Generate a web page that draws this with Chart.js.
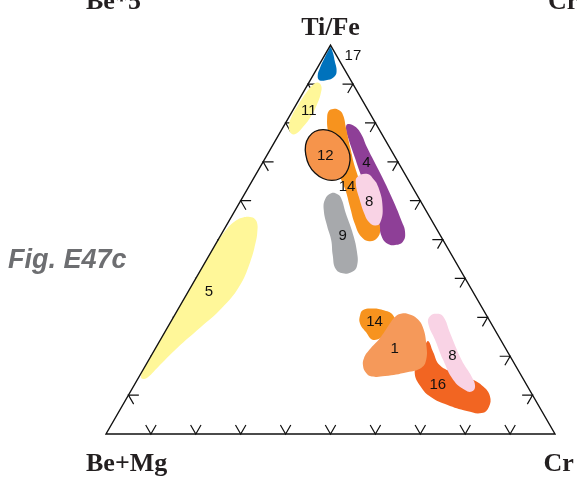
<!DOCTYPE html>
<html>
<head>
<meta charset="utf-8">
<script src="https://cdn.jsdelivr.net/npm/chart.js@4.4.1/dist/chart.umd.min.js"></script>
<style>
  html, body { margin: 0; padding: 0; background: #ffffff; }
  #wrap { width: 577px; height: 480px; }
</style>
</head>
<body>
<div id="wrap"><canvas id="c" width="577" height="480"></canvas></div>
<script>
// Ternary diagram: Ti/Fe (apex), Be+Mg (lower left), Cr (lower right).
const apexTitles = ['Ti/Fe', 'Be+Mg', 'Cr'];
const tickPercents = [10, 20, 30, 40, 50, 60, 70, 80, 90];

// Field outlines as [Cr %, Ti/Fe %]; Be+Mg is the remainder to 100 %.
const field17 = [[0.2, 99.5], [1.4, 98.2], [3.0, 95.9], [4.8, 93.1], [4.8, 91.7], [3.5, 91.0],
  [2.0, 91.0], [1.1, 92.1], [0.6, 94.1], [0.3, 97.0], [0.2, 99.0]];
const field11 = [[3.2, 89.5], [4.0, 87.7], [4.6, 84.9], [4.8, 81.8], [4.4, 79.0], [3.7, 77.2],
  [2.6, 77.3], [1.2, 79.0], [0.5, 81.8], [0.5, 84.6], [0.7, 87.7], [1.2, 89.9], [2.0, 90.4]];
const field14a = [[8.8, 83.6], [10.2, 83.3], [11.8, 82.0], [14.1, 78.7], [17.6, 73.6], [21.7, 67.9],
  [25.6, 63.3], [29.6, 58.9], [32.6, 55.6], [34.8, 52.5], [35.2, 50.4], [33.8, 49.6], [31.5, 50.7],
  [28.6, 53.8], [25.0, 58.6], [21.9, 62.8], [18.0, 67.4], [14.1, 72.5], [10.6, 77.7], [8.6, 81.3],
  [8.1, 83.1]];
const field12 = [[18.4, 71.8], [19.6, 69.2], [19.9, 67.1], [19.3, 65.7], [17.7, 65.2], [15.5, 65.7],
  [13.0, 67.1], [10.6, 69.2], [8.6, 71.8], [7.3, 74.3], [7.0, 76.4], [7.6, 77.8], [9.2, 78.3],
  [11.4, 77.8], [13.9, 76.4], [16.3, 74.3]];
const field4 = [[14.0, 79.7], [15.9, 79.1], [18.2, 77.2], [21.2, 73.8], [27.5, 67.1], [33.8, 60.2],
  [38.5, 54.7], [40.6, 52.0], [41.4, 49.5], [40.1, 48.6], [38.1, 49.0], [36.0, 50.8], [33.1, 55.0],
  [28.3, 61.0], [23.9, 66.1], [19.8, 71.2], [15.9, 76.1], [14.1, 78.7]];
const field8a = [[22.9, 66.1], [24.6, 66.9], [26.5, 65.8], [28.9, 63.5], [32.4, 58.4], [33.9, 54.3],
  [33.1, 53.6], [31.3, 54.5], [29.5, 56.3], [25.8, 61.0], [23.5, 64.3]];
const field9 = [[19.2, 61.9], [20.6, 61.7], [22.0, 60.7], [25.0, 56.8], [28.7, 52.2], [32.5, 46.8],
  [34.3, 43.2], [34.0, 41.7], [32.4, 41.3], [30.0, 42.4], [27.5, 46.0], [25.2, 49.9], [22.5, 53.5],
  [19.7, 57.6], [18.6, 60.4]];
const field5 = [[1.0, 14.2], [1.9, 14.4], [2.9, 17.0], [4.8, 22.1], [7.3, 27.3], [9.6, 32.4],
  [10.7, 37.8], [10.0, 44.2], [8.5, 49.9], [7.7, 52.0], [6.7, 54.0], [5.5, 55.3], [4.2, 55.8],
  [2.7, 55.7], [1.5, 54.9], [0.5, 52.5], [0, 46.6], [0, 39.6], [0, 30.9], [0, 22.1], [0.1, 16.7],
  [0.3, 15.0]];
const field14b = [[41.3, 30.6], [41.3, 31.9], [43.1, 32.3], [45.7, 31.9], [48.6, 30.6], [50.3, 28.0],
  [49.4, 25.5], [47.4, 24.2], [44.8, 26.2], [42.3, 28.5]];
const field1 = [[50.4, 31.0], [52.3, 30.7], [54.4, 29.7], [56.8, 27.5], [59.9, 22.9], [61.8, 19.0],
  [61.7, 17.0], [59.1, 15.9], [54.7, 14.9], [51.8, 14.8], [50.1, 15.7], [48.5, 17.5], [47.7, 19.5],
  [47.8, 21.6], [48.7, 24.7], [49.0, 28.0], [49.3, 30.1]];
const field16 = [[59.8, 23.9], [62.3, 21.1], [65.5, 17.7], [69.9, 15.7], [74.4, 14.1], [77.8, 12.3],
  [80.6, 9.8], [81.8, 6.9], [81.0, 5.4], [77.4, 5.9], [72.2, 7.5], [67.6, 9.5], [64.1, 12.1],
  [60.8, 15.9], [60.2, 19.5], [59.7, 22.6]];
const field8b = [[58.2, 30.9], [60.0, 30.2], [63.7, 25.9], [69.7, 19.0], [74.1, 14.7], [76.1, 12.2],
  [76.0, 10.9], [74.3, 11.3], [70.4, 13.9], [65.6, 19.0], [61.2, 24.2], [57.5, 28.5], [57.0, 30.3]];

// Field numbers and where they sit, as [text, Cr %, Ti/Fe %].
const fieldLabels = [['17', 6.2, 97.6], ['11', 3.4, 83.5], ['12', 12.9, 71.9], ['4', 23.0, 70.0],
  ['14', 21.7, 64.0], ['8', 28.6, 60.0], ['9', 27.0, 51.4], ['5', 4.5, 36.8], ['14', 45.2, 29.2],
  ['1', 53.2, 22.2], ['8', 67.0, 20.3], ['16', 67.4, 13.0]];

// ---- geometry helpers ----
const H = Math.sqrt(3) / 2;
function toXY(cr, ti) { return { x: cr / 100 + ti / 200, y: (ti / 100) * H }; }
const outline = pts => pts.map(([cr, ti]) => toXY(cr, ti));

// Arrow-like ticks: apex on the side, two arms at ±30° around the inward normal.
const TICK = 0.0232;
function vTick(p, nx, ny) {
  const c = Math.cos(Math.PI / 6), s = Math.sin(Math.PI / 6);
  return [
    { x: p.x + TICK * (nx * c - ny * s), y: p.y + TICK * (nx * s + ny * c) },
    { x: p.x, y: p.y },
    { x: p.x + TICK * (nx * c + ny * s), y: p.y + TICK * (-nx * s + ny * c) },
    { x: null, y: null }
  ];
}
const tickPoints = [];
tickPercents.forEach(t => {
  tickPoints.push(...vTick(toXY(t, 0), 0, 1));          // base: Be+Mg – Cr
  tickPoints.push(...vTick(toXY(0, t), H, -0.5));       // left: Be+Mg – Ti/Fe
  tickPoints.push(...vTick(toXY(100 - t, t), -H, -0.5)); // right: Cr – Ti/Fe
});

// Stacking: later entries are painted above earlier ones.
const layers = [
  { pts: field5, color: '#fff799' },
  { pts: field11, color: '#fff799' },
  { pts: field17, color: '#0072bc' },
  { pts: field4, color: '#8e3f97' },
  { pts: field14a, color: '#f7931e' },
  { pts: field9, color: '#a7a9ac' },
  { pts: field8a, color: '#f9d3e5' },
  { pts: field12, color: '#f6944b', border: '#111111' },
  { pts: field14b, color: '#f7931e' },
  { pts: field16, color: '#f26522' },
  { pts: field1, color: '#f5995a' },
  { pts: field8b, color: '#f9d3e5' }
];

const datasets = [];
datasets.push({
  data: tickPoints, order: 100, showLine: true, borderColor: '#111111', borderWidth: 1.2,
  pointRadius: 0, tension: 0, fill: false, spanGaps: false
});
layers.forEach((l, i) => {
  datasets.push({
    data: outline(l.pts), order: 90 - i, closed: true, showLine: true,
    backgroundColor: l.color, borderColor: l.border || l.color,
    borderWidth: l.border ? 1.3 : 0, pointRadius: 0, tension: 0.45,
    fill: 'shape', capBezierPoints: false
  });
});
datasets.push({
  data: [toXY(0, 100), toXY(0, 0), toXY(100, 0)], order: 0, closed: true, showLine: true,
  borderColor: '#111111', borderWidth: 1.4, pointRadius: 0, tension: 0, fill: false
});

// Turn flagged line datasets into smooth closed loops.
const closedOutline = {
  id: 'closedOutline',
  afterDatasetUpdate(chart, args) {
    const ds = chart.data.datasets[args.index];
    if (!ds.closed) return;
    const line = args.meta.dataset;
    line._loop = true;
    line._fullLoop = true;
    line._pointsUpdated = false;
    delete line._segments;
    delete line._path;
  }
};

// Field numbers, apex titles and panel caption.
const textLayer = {
  id: 'textLayer',
  afterDatasetsDraw(chart) {
    const { ctx, scales: { x, y } } = chart;
    const px = p => [x.getPixelForValue(p.x), y.getPixelForValue(p.y)];
    ctx.save();
    ctx.fillStyle = '#111111';
    ctx.textAlign = 'center';
    ctx.textBaseline = 'alphabetic';
    ctx.font = '15px "Liberation Sans", Arial, sans-serif';
    fieldLabels.forEach(([t, cr, ti]) => {
      const [a, b] = px(toXY(cr, ti));
      ctx.fillText(t, a, b + 5.4);
    });

    ctx.fillStyle = '#231f20';
    ctx.font = 'bold 26px "Liberation Serif", "Times New Roman", serif';
    const [tx, ty] = px(toXY(0, 100));
    ctx.textAlign = 'center';
    ctx.fillText(apexTitles[0], tx, ty - 10);
    const [lx, ly] = px(toXY(0, 0));
    ctx.textAlign = 'left';
    ctx.fillText(apexTitles[1], lx - 20, ly + 37);
    const [rx, ry] = px(toXY(100, 0));
    ctx.fillText(apexTitles[2], rx - 11.5, ry + 37);

    // titles of the neighbouring panels above
    ctx.fillText('Be*5', 86, 9);
    ctx.fillText('Cr', 548, 9);

    ctx.fillStyle = '#6d6e71';
    ctx.font = 'italic bold 27px "Liberation Sans", Arial, sans-serif';
    ctx.fillText('Fig. E47c', 8, 268);
    ctx.restore();
  }
};

new Chart(document.getElementById('c'), {
  type: 'scatter',
  data: { datasets },
  options: {
    responsive: false,
    animation: false,
    devicePixelRatio: 1,
    events: [],
    layout: { padding: 0 },
    plugins: { legend: { display: false }, tooltip: { enabled: false } },
    scales: {
      x: { type: 'linear', min: -106 / 449, max: 471 / 449, display: false },
      y: { type: 'linear', min: -46 / 449, max: 434 / 449, display: false }
    }
  },
  plugins: [closedOutline, textLayer]
});
</script>
</body>
</html>
